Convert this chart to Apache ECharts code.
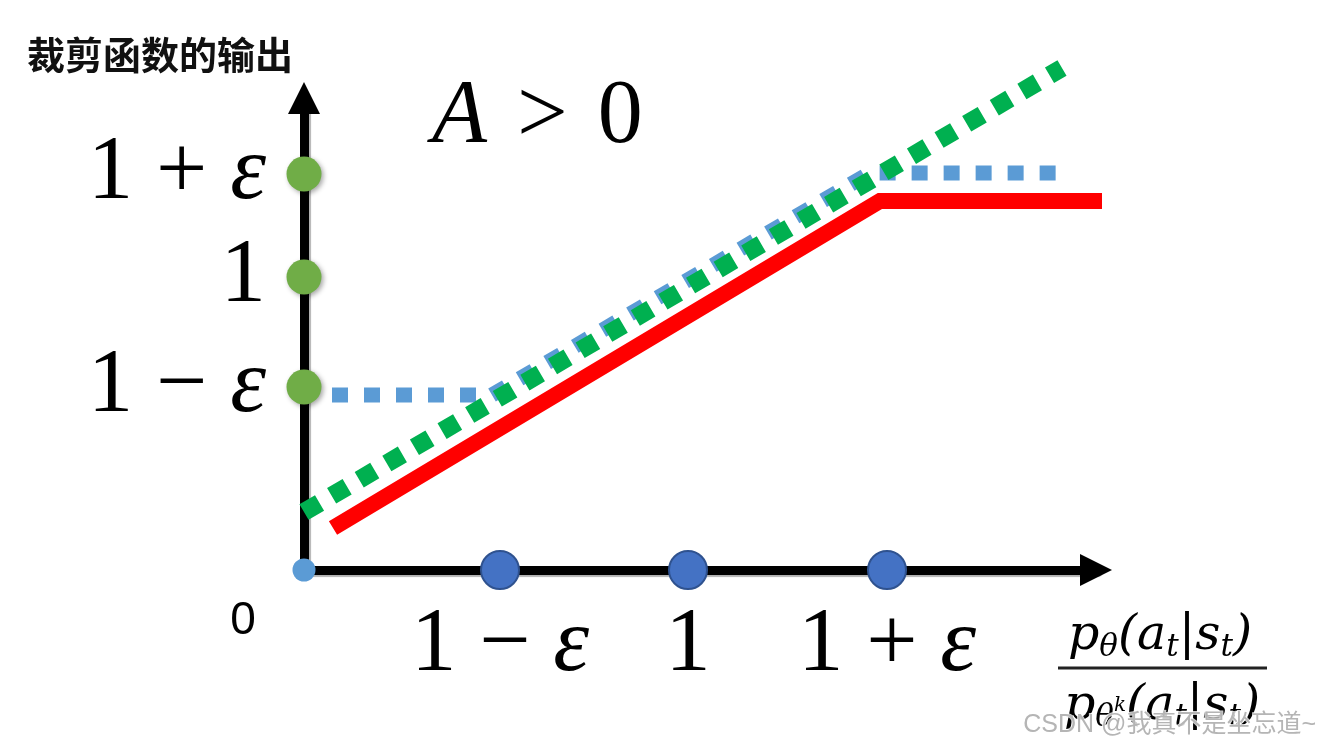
<!DOCTYPE html>
<html><head><meta charset="utf-8">
<script src="https://cdn.jsdelivr.net/npm/echarts@6/dist/echarts.min.js"></script>
<style>html,body{margin:0;padding:0;background:#fff}#c{width:1320px;height:747px}</style>
</head><body><div id="c"></div>
<script>
// schematic units: 1 unit = 100 px in both directions, origin at the axes' crossing
const xTickValues = [1.96, 3.84, 5.83];
const xTickLabels = ['1 − ε', '1', '1 + ε'];
const yTickValues = [1.83, 2.93, 3.96];
const yTickLabels = ['1 − ε', '1', '1 + ε'];
const clippedLine = [[0.29, 0.42], [5.76, 3.69], [7.98, 3.69]];          // red
const clipBoundLine = [[0.28, 1.75], [1.88, 1.75], [5.66, 3.97], [7.63, 3.97]]; // blue dotted
const ratioLine = [[0, 0.58], [7.58, 5.02]];                               // green dotted
const xMarkers = [[1.96, 0], [3.84, 0], [5.83, 0]];
const yMarkers = [[0, 1.83], [0, 2.93], [0, 3.96]];
const originPoint = [[0, 0]];

const bigFont = '"Liberation Serif", "DejaVu Serif", serif';
const mathFont = '"DejaVu Serif", "Liberation Serif", serif';

const axisLineStyle = {color: '#000', width: 9, shadowColor: 'rgba(0,0,0,0.3)', shadowOffsetX: 2, shadowOffsetY: 2, shadowBlur: 1};
// render ε in italic, like a math variable
const toRich = s => s.split('ε').map(p => p ? '{n|' + p + '}' : '').join('{e|ε}');
const labelRich = {
  n: {fontFamily: bigFont, fontSize: 91, color: '#000'},
  e: {fontFamily: bigFont, fontSize: 91, fontStyle: 'italic', color: '#000'}
};

const chart = echarts.init(document.getElementById('c'), null, {renderer: 'canvas'});
chart.setOption({
  animation: false,
  backgroundColor: '#ffffff',
  grid: {left: 304, bottom: 177, width: 792, top: 98, containLabel: false},
  xAxis: {
    type: 'value', min: 0, max: 7.92,
    axisLine: {show: true, onZero: false, symbol: ['none', 'triangle'], symbolSize: [32, 32],
      lineStyle: axisLineStyle},
    axisTick: {show: false},
    splitLine: {show: false},
    axisLabel: {
      customValues: xTickValues,
      formatter: v => toRich(xTickLabels[xTickValues.indexOf(v)]),
      rich: labelRich, fontFamily: bigFont, fontSize: 91, color: '#000', margin: 31
    }
  },
  yAxis: {
    type: 'value', min: 0, max: 4.72,
    axisLine: {show: true, onZero: false, symbol: ['none', 'triangle'], symbolSize: [32, 32],
      lineStyle: axisLineStyle},
    axisTick: {show: false},
    splitLine: {show: false},
    axisLabel: {
      customValues: yTickValues,
      formatter: v => toRich(yTickLabels[yTickValues.indexOf(v)]),
      rich: labelRich, fontFamily: bigFont, fontSize: 91, color: '#000', margin: 38
    }
  },
  series: [
    {type: 'line', data: clipBoundLine, symbol: 'none', clip: false, z: 3,
      lineStyle: {color: '#5B9BD5', width: 15, type: [16, 16], cap: 'butt', join: 'miter'}},
    {type: 'line', data: clippedLine, symbol: 'none', clip: false, z: 2,
      lineStyle: {color: '#FF0000', width: 16, cap: 'butt', join: 'miter'}},
    {type: 'line', data: ratioLine, symbol: 'none', clip: false, z: 4,
      lineStyle: {color: '#00B050', width: 18, type: [18, 14], cap: 'butt'}},
    {type: 'scatter', data: yMarkers, symbolSize: 35, clip: false, z: 10,
      itemStyle: {color: '#70AD47', opacity: 1, shadowBlur: 5, shadowColor: 'rgba(0,0,0,0.35)', shadowOffsetX: 2, shadowOffsetY: 2}},
    {type: 'scatter', data: xMarkers, symbolSize: 38, clip: false, z: 10,
      itemStyle: {color: '#4472C4', opacity: 1, borderColor: '#2F528F', borderWidth: 2}},
    {type: 'scatter', data: originPoint, symbolSize: 23, clip: false, z: 10,
      itemStyle: {color: '#5B9BD5', opacity: 1}}
  ],
  graphic: [
    {type: 'text', x: 27, y: 55, style: {text: '裁剪函数的输出', fill: '#111',
      font: 'bold 38px "Noto Sans CJK SC", sans-serif', textAlign: 'left', textVerticalAlign: 'middle'}},
    {type: 'text', x: 432, y: 118, style: {
      text: '{i|A}{n| \u200A> \u200A0}', textAlign: 'left', textVerticalAlign: 'middle',
      rich: {
        i: {fontFamily: bigFont, fontStyle: 'italic', fontSize: 90, color: '#000'},
        n: {fontFamily: bigFont, fontSize: 90, color: '#000'}
      }}},
    {type: 'text', x: 243, y: 621, style: {text: '0', fill: '#000',
      font: '46px "Liberation Sans", sans-serif', textAlign: 'center', textVerticalAlign: 'middle'}},
    {type: 'text', x: 1160, y: 636, style: {
      text: '{m|p}{s|θ}{m|(a}{s|t}{m||s}{s|t}{m|)}', textAlign: 'center', textVerticalAlign: 'middle',
      rich: {
        m: {fontFamily: mathFont, fontStyle: 'italic', fontSize: 49, lineHeight: 54, color: '#000', verticalAlign: 'middle'},
        s: {fontFamily: mathFont, fontStyle: 'italic', fontSize: 31, lineHeight: 32, color: '#000', verticalAlign: 'bottom'}
      }}},
    {type: 'line', shape: {x1: 1058, y1: 668, x2: 1267, y2: 668}, style: {stroke: '#222', lineWidth: 3}},
    {type: 'text', x: 1162, y: 706, style: {
      text: '{m|p}{s|θ}{k|k}{m|(a}{s|t}{m||s}{s|t}{m|)}', textAlign: 'center', textVerticalAlign: 'middle',
      rich: {
        m: {fontFamily: mathFont, fontStyle: 'italic', fontSize: 49, lineHeight: 54, color: '#000', verticalAlign: 'middle'},
        s: {fontFamily: mathFont, fontStyle: 'italic', fontSize: 31, lineHeight: 32, color: '#000', verticalAlign: 'bottom'},
        k: {fontFamily: mathFont, fontStyle: 'italic', fontSize: 20, lineHeight: 44, color: '#000', verticalAlign: 'middle'}
      }}},
    {type: 'text', x: 1316, y: 725, z: 100, style: {text: 'CSDN @我真不是坐忘道~', fill: '#b5b5b5',
      font: '25px "Liberation Sans", "Noto Sans CJK SC", sans-serif', textAlign: 'right', textVerticalAlign: 'middle',
      stroke: 'rgba(255,255,255,0.8)', lineWidth: 2}}
  ]
});
</script>
</body></html>
